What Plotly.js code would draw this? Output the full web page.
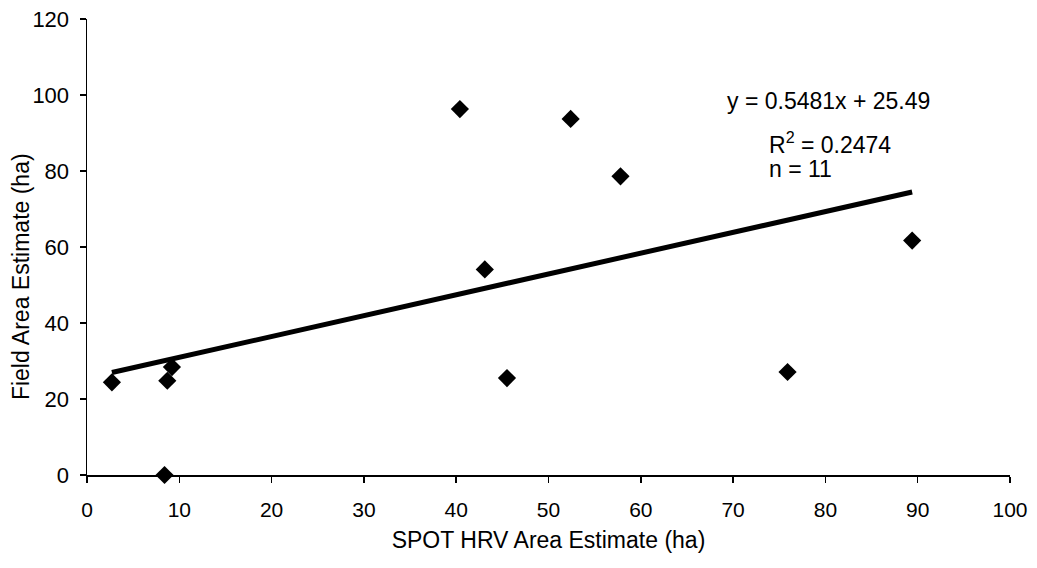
<!DOCTYPE html>
<html>
<head>
<meta charset="utf-8">
<script src="https://cdn.plot.ly/plotly-3.0.1.min.js"></script>
<style>html,body{margin:0;padding:0;background:#fff;}#chart{width:1037px;height:568px;}</style>
</head>
<body>
<div id="chart"></div>
<script>
const spotHRV = [2.7, 8.4, 8.7, 9.2, 40.4, 43.1, 45.5, 52.4, 57.8, 75.9, 89.4];
const fieldArea = [24.4, 0, 24.8, 28.4, 96.3, 54.1, 25.5, 93.7, 78.6, 27.1, 61.7];
const slope = 0.5481;
const intercept = 25.49;
const r2 = 0.2474;
const xTicks = [0, 10, 20, 30, 40, 50, 60, 70, 80, 90, 100];
const yTicks = [0, 20, 40, 60, 80, 100, 120];

const xMin = Math.min(...spotHRV), xMax = Math.max(...spotHRV);
const trendX = [xMin, xMax];
const trendY = trendX.map(v => slope * v + intercept);

const font = "Liberation Sans, Arial, sans-serif";

const data = [
  {x: spotHRV, y: fieldArea, type: 'scatter', mode: 'markers',
   marker: {symbol: 'diamond', size: 14, color: '#000'}, cliponaxis: false, hoverinfo: 'x+y'},
  {x: trendX, y: trendY, type: 'scatter', mode: 'lines',
   line: {color: '#000', width: 5}, hoverinfo: 'skip'}
];

const layout = {
  width: 1037, height: 568,
  margin: {l: 87, r: 27, t: 19, b: 93},
  paper_bgcolor: '#fff', plot_bgcolor: '#fff',
  showlegend: false,
  font: {family: font, color: '#000', size: 21},
  xaxis: {
    range: [0, 100], tickvals: xTicks, ticktext: xTicks.map(String),
    showgrid: false, zeroline: false, showline: true, linecolor: '#000', linewidth: 1.5,
    ticks: 'outside', ticklen: 6, tickwidth: 1.5, tickcolor: '#000',
    tickfont: {size: 21}, ticklabelstandoff: 9,
    title: {text: 'SPOT HRV Area Estimate (ha)', font: {size: 23}, standoff: 12},
    automargin: false, fixedrange: true
  },
  yaxis: {
    range: [0, 120], tickvals: yTicks, ticktext: yTicks.map(String),
    showgrid: false, zeroline: false, showline: true, linecolor: '#000', linewidth: 1.5,
    ticks: 'outside', ticklen: 6, tickwidth: 1.5, tickcolor: '#000',
    tickfont: {size: 22}, ticklabelstandoff: 6,
    automargin: false, fixedrange: true
  },
  annotations: [
    {xref: 'paper', yref: 'paper', x: -0.0715, y: 0.434, text: 'Field Area Estimate (ha)',
     textangle: -90, showarrow: false, font: {size: 23}, xanchor: 'center', yanchor: 'middle'},
    {xref: 'x', yref: 'y', x: 69.1, y: 98.4, xanchor: 'left', yanchor: 'middle', showarrow: false,
     text: 'y = ' + slope + 'x + ' + intercept, font: {size: 23}},
    {xref: 'x', yref: 'y', x: 73.7, y: 87.4, xanchor: 'left', yanchor: 'middle', showarrow: false,
     text: 'R<sup>2</sup> = ' + r2, font: {size: 23}},
    {xref: 'x', yref: 'y', x: 73.7, y: 80.6, xanchor: 'left', yanchor: 'middle', showarrow: false,
     text: 'n = ' + spotHRV.length, font: {size: 23}}
  ]
};

Plotly.newPlot('chart', data, layout, {displayModeBar: false, staticPlot: true});
</script>
</body>
</html>
